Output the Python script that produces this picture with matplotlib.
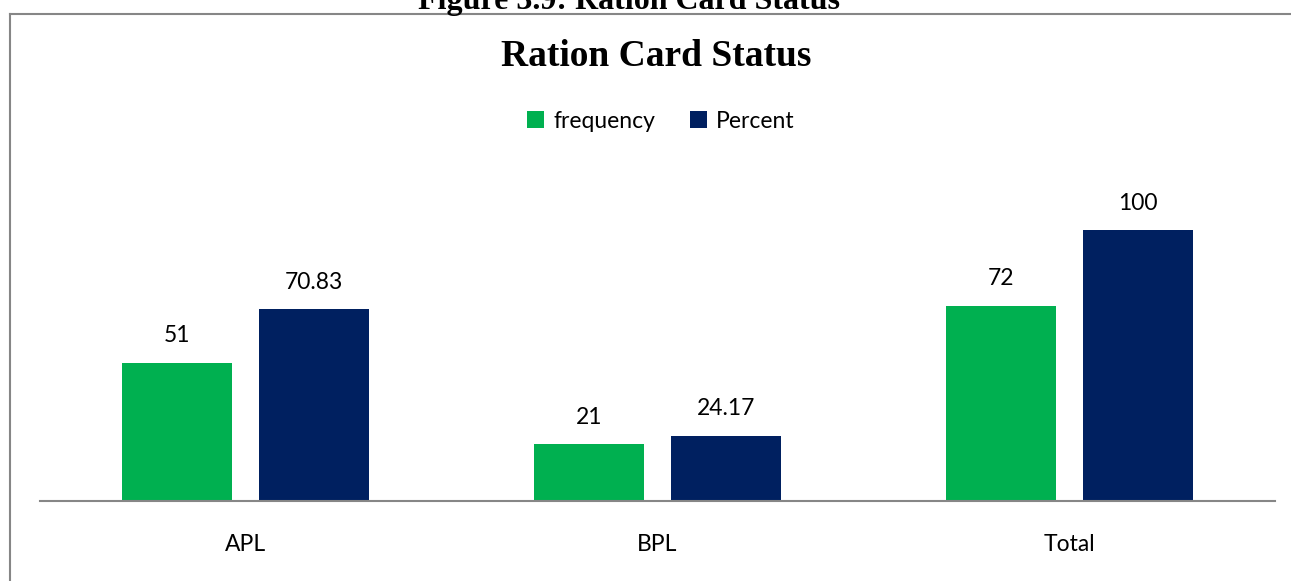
import numpy as np
import matplotlib.pyplot as plt
from matplotlib.lines import Line2D

categories = ["APL", "BPL", "Total"]
frequency = [51, 21, 72]
percent = [70.83, 24.17, 100]
freq_labels = ["51", "21", "72"]
pct_labels = ["70.83", "24.17", "100"]

W, H = 1291, 581
fig = plt.figure(figsize=(W / 100, H / 100), dpi=100)
ax = fig.add_axes([40 / W, 80 / H, (1275 - 40) / W, (501 - 176) / H])

x = np.arange(len(categories))
bw = 110 / 411.7
off = 68.5 / 411.7
green = "#00B050"
navy = "#002060"
ax.bar(x - off, frequency, bw, color=green, label="frequency")
ax.bar(x + off, percent, bw, color=navy, label="Percent")

font = "Lato"
fs = 16.5
for xi, v, t in zip(x, frequency, freq_labels):
    ax.annotate(t, (xi - off, v), xytext=(0, 27), textcoords="offset pixels",
                ha="center", va="center", fontsize=fs, family=font, color="#000000")
for xi, v, t in zip(x, percent, pct_labels):
    ax.annotate(t, (xi + off, v), xytext=(0, 27), textcoords="offset pixels",
                ha="center", va="center", fontsize=fs, family=font, color="#000000")

ax.set_xlim(-0.5, 2.5)
ax.set_ylim(0, 120)
ax.set_yticks([])
ax.set_xticks(x)
ax.set_xticklabels(categories, fontsize=fs, family=font)
ax.tick_params(axis="x", length=0, pad=24)
for s in ["top", "right", "left"]:
    ax.spines[s].set_visible(False)
ax.spines["bottom"].set_color("#868686")
ax.spines["bottom"].set_linewidth(1.5)

fig.text(656 / W, 1 - 57 / H, "Ration Card Status", ha="center", va="center",
         fontsize=27, fontweight="bold", family="Liberation Serif")
fig.text(629 / W, 1 - 9 / H, "Figure 3.9: Ration Card Status", ha="center", va="baseline",
         fontsize=23, fontweight="bold", family="Liberation Serif")

fig.legend(loc="center", bbox_to_anchor=(661 / W, 1 - 121 / H), ncol=2, frameon=False,
           prop={"family": font, "size": fs}, handlelength=0.75, handleheight=0.75,
           handletextpad=0.4, columnspacing=1.5)

# outer chart frame
fig.add_artist(Line2D([10 / W, 10 / W], [0, 1 - 14 / H], transform=fig.transFigure,
                      color="#868686", lw=1.5))
fig.add_artist(Line2D([10 / W, 1], [1 - 14 / H, 1 - 14 / H], transform=fig.transFigure,
                      color="#868686", lw=1.5))

fig.savefig("out.png", dpi=100)
